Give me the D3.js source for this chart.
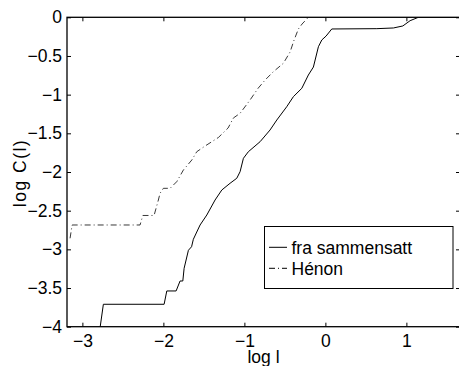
<!DOCTYPE html>
<html>
<head>
<meta charset="utf-8">
<script src="https://cdn.jsdelivr.net/npm/d3@7"></script>
<style>
  body { margin: 0; background: #fff; }
  svg { display: block; font-family: "Liberation Sans", Arial, sans-serif; }
</style>
</head>
<body>
<div id="chart"></div>
<script>
// log l / log C(l) for the composed series ("fra sammensatt")
const sammensattX = [-2.78, -2.741, -1.991, -1.958, -1.843, -1.794, -1.760, -1.744, -1.691, -1.652, -1.630, -1.588,
  -1.547, -1.464, -1.362, -1.279, -1.177, -1.094, -1.053, -1.012, -0.951, -0.806, -0.683, -0.600, -0.477,
  -0.395, -0.291, -0.210, -0.148, -0.086, -0.044, 0.009, 0.079, 0.635, 0.840, 0.956, 1.046, 1.148, 1.663];
const sammensattY = [-4.0, -3.710, -3.710, -3.538, -3.538, -3.409, -3.409, -3.245, -3.012, -2.966, -2.870, -2.776,
  -2.685, -2.556, -2.362, -2.233, -2.146, -2.081, -1.996, -1.823, -1.738, -1.608, -1.457, -1.328, -1.156,
  -1.026, -0.918, -0.746, -0.643, -0.380, -0.293, -0.242, -0.151, -0.147, -0.138, -0.112, -0.044, 0, 0];

// Hénon map
const henonX = [-3.152, -3.127, -2.288, -2.254, -2.115, -2.062, -2.041, -2.0, -1.917, -1.835, -1.753, -1.649,
  -1.588, -1.485, -1.321, -1.201, -1.136, -1.053, -0.930, -0.831, -0.744, -0.642, -0.519, -0.436, -0.386,
  -0.333, -0.288, -0.210];
const henonY = [-2.857, -2.685, -2.685, -2.562, -2.562, -2.362, -2.275, -2.211, -2.211, -2.125, -1.974, -1.845,
  -1.738, -1.664, -1.554, -1.431, -1.302, -1.241, -1.069, -0.918, -0.811, -0.703, -0.595, -0.449, -0.293,
  -0.151, -0.087, 0];

const xTicks = [-3, -2, -1, 0, 1];
const yTicks = [0, -0.5, -1, -1.5, -2, -2.5, -3, -3.5, -4];
const seriesNames = ["fra sammensatt", "Hénon"];

const width = 459, height = 366;
const plot = {left: 67, right: 460, top: 17.3, bottom: 326.7};
const fontSize = "17.5px";

const svg = d3.select("#chart").append("svg")
    .attr("width", width)
    .attr("height", height);

const x = d3.scaleLinear().domain([-3.19, 1.662]).range([plot.left, plot.right]);
const y = d3.scaleLinear().domain([-4, 0]).range([plot.bottom, plot.top]);

svg.append("defs").append("clipPath").attr("id", "clip")
  .append("rect")
    .attr("x", plot.left).attr("y", plot.top)
    .attr("width", plot.right - plot.left).attr("height", plot.bottom - plot.top);

const fmt = d3.format("~g");

// axes, ticks pointing inward
const xAxis = svg.append("g")
    .attr("transform", `translate(0,${plot.bottom})`)
    .call(d3.axisBottom(x).tickValues(xTicks).tickFormat(fmt).tickSizeInner(-4).tickSizeOuter(0).tickPadding(8));
const xAxisTop = svg.append("g")
    .attr("transform", `translate(0,${plot.top})`)
    .call(d3.axisTop(x).tickValues(xTicks).tickFormat("").tickSizeInner(-4).tickSizeOuter(0));
const yAxis = svg.append("g")
    .attr("transform", `translate(${plot.left},0)`)
    .call(d3.axisLeft(y).tickValues(yTicks).tickFormat(fmt).tickSizeInner(-4).tickSizeOuter(0).tickPadding(5));
const yAxisRight = svg.append("g")
    .attr("transform", `translate(${plot.right},0)`)
    .call(d3.axisRight(y).tickValues(yTicks).tickFormat("").tickSizeInner(-4).tickSizeOuter(0));

[xAxis, xAxisTop, yAxis, yAxisRight].forEach(g => {
  g.select(".domain").remove();
  g.selectAll("line").attr("stroke", "#000");
  g.selectAll("text")
    .attr("fill", "#000")
    .style("font-family", "'Liberation Sans', Arial, sans-serif")
    .style("font-size", fontSize);
});

svg.append("rect")
    .attr("x", plot.left).attr("y", plot.top)
    .attr("width", plot.right - plot.left).attr("height", plot.bottom - plot.top)
    .attr("fill", "none")
    .attr("stroke", "#000")
    .attr("stroke-width", 1.3);

const line = d3.line().x(d => x(d[0])).y(d => y(d[1]));

const lines = svg.append("g").attr("clip-path", "url(#clip)");

lines.append("path")
    .datum(d3.zip(sammensattX, sammensattY))
    .attr("d", line)
    .attr("fill", "none")
    .attr("stroke", "#000")
    .attr("stroke-width", 1);

lines.append("path")
    .datum(d3.zip(henonX, henonY))
    .attr("d", line)
    .attr("fill", "none")
    .attr("stroke", "#222")
    .attr("stroke-width", 0.9)
    .attr("stroke-dasharray", "6,3,1,3");

// axis labels
svg.append("text")
    .attr("x", (plot.left + plot.right) / 2)
    .attr("y", 363)
    .attr("text-anchor", "middle")
    .style("font-size", fontSize)
    .text("log l");

svg.append("text")
    .attr("transform", `translate(26,173) rotate(-90)`)
    .attr("text-anchor", "middle")
    .style("font-size", fontSize)
    .style("letter-spacing", "1.5px")
    .text("log C(l)");

// legend
const legend = svg.append("g");
legend.append("rect")
    .attr("x", 264.5).attr("y", 226.5)
    .attr("width", 188.5).attr("height", 62)
    .attr("fill", "#fff")
    .attr("stroke", "#000")
    .attr("stroke-width", 1);

const dashes = [null, "6,3,1,3"];
seriesNames.forEach((name, i) => {
  const ly = 247.3 + i * 21;
  legend.append("line")
      .attr("x1", 269).attr("x2", 287)
      .attr("y1", ly).attr("y2", ly)
      .attr("stroke", "#000")
      .attr("stroke-width", 1)
      .attr("stroke-dasharray", dashes[i]);
  legend.append("text")
      .attr("x", 291.5).attr("y", ly + 6.5)
      .style("font-size", fontSize)
      .text(name);
});
</script>
</body>
</html>
